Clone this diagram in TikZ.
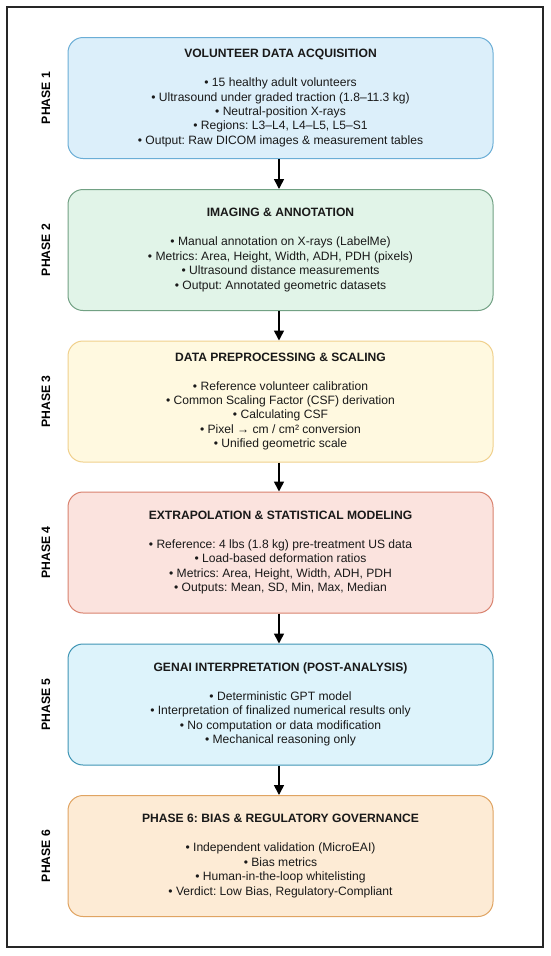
\documentclass[tikz,border=0pt]{standalone}
\usepackage{fontspec}
\setmainfont{Liberation Sans}
\usetikzlibrary{arrows.meta}
\definecolor{f1}{HTML}{DCEFFA}\definecolor{d1}{HTML}{6BAED6}
\definecolor{f2}{HTML}{E1F4E8}\definecolor{d2}{HTML}{72A184}
\definecolor{f3}{HTML}{FFF9E0}\definecolor{d3}{HTML}{F0D08C}
\definecolor{f4}{HTML}{FBE3DE}\definecolor{d4}{HTML}{D9826E}
\definecolor{f5}{HTML}{DDF3FB}\definecolor{d5}{HTML}{3F95B5}
\definecolor{f6}{HTML}{FDEBD5}\definecolor{d6}{HTML}{E0A462}
\frenchspacing
\tikzset{
  phasebox/.style={rounded corners=15pt, line width=1pt, minimum width=425pt,
    minimum height=121pt, align=center, inner sep=0pt, text=black!90,
    font=\fontsize{12.1pt}{14.4pt}\selectfont\frenchspacing},
  phaselabel/.style={rotate=90, font=\fontsize{12.2pt}{14pt}\selectfont\bfseries},
  flow/.style={line width=1.6pt, -{Triangle[length=10pt,width=10pt]}},
}
\newcommand{\ttl}[1]{\textbf{#1}\\[14.6pt]}
\begin{document}
\begin{tikzpicture}[x=1pt,y=-1pt]
\useasboundingbox (0,0) rectangle (550,956);
\fill[white] (0,0) rectangle (550,956);
\draw[line width=1.2pt, black!85] (7,7) rectangle (543,947);

\node[phasebox, fill=f1, draw=d1] (p1) at (280.5,98) {\ttl{VOLUNTEER DATA ACQUISITION}
• 15 healthy adult volunteers\\
• Ultrasound under graded traction (1.8–11.3 kg)\\
• Neutral-position X-rays\\
• Regions: L3–L4, L4–L5, L5–S1\\
• Output: Raw DICOM images \& measurement tables};

\node[phasebox, fill=f2, draw=d2] (p2) at (280.5,250) {\ttl{IMAGING \& ANNOTATION}
• Manual annotation on X-rays (LabelMe)\\
• Metrics: Area, Height, Width, ADH, PDH (pixels)\\
• Ultrasound distance measurements\\
• Output: Annotated geometric datasets};

\node[phasebox, fill=f3, draw=d3] (p3) at (280.5,401.5) {\ttl{DATA PREPROCESSING \& SCALING}
• Reference volunteer calibration\\
• Common Scaling Factor (CSF) derivation\\
• Calculating CSF\\
• Pixel → cm / cm² conversion\\
• Unified geometric scale};

\node[phasebox, fill=f4, draw=d4] (p4) at (280.5,552.5) {\ttl{EXTRAPOLATION \& STATISTICAL MODELING}
• Reference: 4 lbs (1.8 kg) pre-treatment US data\\
• Load-based deformation ratios\\
• Metrics: Area, Height, Width, ADH, PDH\\
• Outputs: Mean, SD, Min, Max, Median};

\node[phasebox, fill=f5, draw=d5] (p5) at (280.5,704.5) {\ttl{GENAI INTERPRETATION (POST-ANALYSIS)}
• Deterministic GPT model\\
• Interpretation of finalized numerical results only\\
• No computation or data modification\\
• Mechanical reasoning only};

\node[phasebox, fill=f6, draw=d6] (p6) at (280.5,856) {\ttl{PHASE 6: BIAS \& REGULATORY GOVERNANCE}
• Independent validation (MicroEAI)\\
• Bias metrics\\
• Human-in-the-loop whitelisting\\
• Verdict: Low Bias, Regulatory-Compliant};

\node[phaselabel] (l1) at (46,98) {PHASE 1};
\node[phaselabel] (l2) at (46,250) {PHASE 2};
\node[phaselabel] (l3) at (46,401.5) {PHASE 3};
\node[phaselabel] (l4) at (46,552.5) {PHASE 4};
\node[phaselabel] (l5) at (46,704.5) {PHASE 5};
\node[phaselabel] (l6) at (46,856) {PHASE 6};

\draw[flow] ([xshift=-1.5pt]p1.south) -- ([xshift=-1.5pt]p2.north);
\draw[flow] ([xshift=-1.5pt]p2.south) -- ([xshift=-1.5pt]p3.north);
\draw[flow] ([xshift=-1.5pt]p3.south) -- ([xshift=-1.5pt]p4.north);
\draw[flow] ([xshift=-1.5pt]p4.south) -- ([xshift=-1.5pt]p5.north);
\draw[flow] ([xshift=-1.5pt]p5.south) -- ([xshift=-1.5pt]p6.north);
\end{tikzpicture}
\end{document}
